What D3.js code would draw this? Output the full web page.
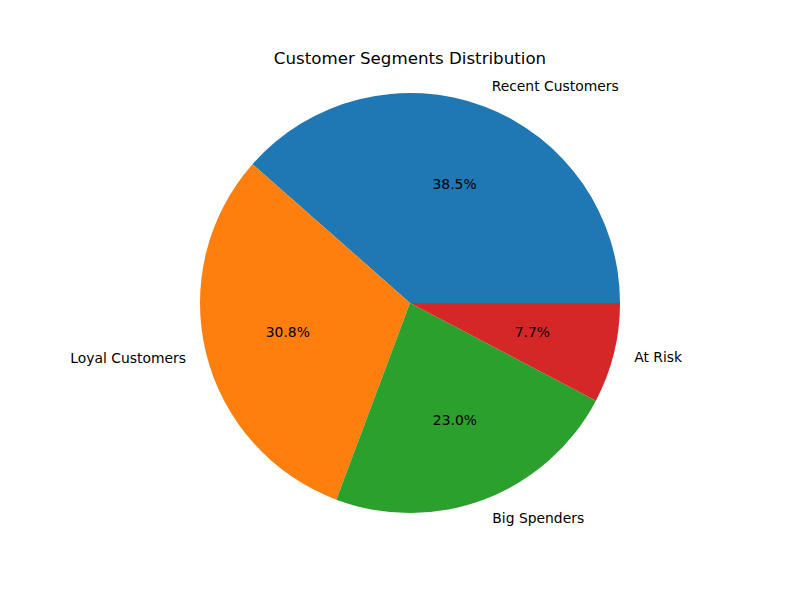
<!DOCTYPE html>
<html>
<head>
<meta charset="utf-8">
<script src="https://cdn.jsdelivr.net/npm/d3@7"></script>
<style>
  body { margin: 0; background: #fff; }
  svg text { font-family: "DejaVu Sans", sans-serif; }
</style>
</head>
<body>
<div id="chart"></div>
<script>
// data
const segments = ['Recent Customers', 'Loyal Customers', 'Big Spenders', 'At Risk'];
const shares = [38.5, 30.8, 23.0, 7.7];
const colors = ['#1f77b4', '#ff7f0e', '#2ca02c', '#d62728'];

const width = 800, height = 600;
const cx = 410, cy = 303, radius = 210;

const svg = d3.select('#chart').append('svg')
  .attr('width', width)
  .attr('height', height);

svg.append('text')
  .attr('x', cx)
  .attr('y', 64)
  .attr('text-anchor', 'middle')
  .style('font-size', '16.67px')
  .text('Customer Segments Distribution');

// matplotlib style: start at 3 o'clock, counterclockwise
const pie = d3.pie()
  .sort(null)
  .startAngle(Math.PI / 2)
  .endAngle(Math.PI / 2 - 2 * Math.PI);

const arcs = pie(shares);

const g = svg.append('g').attr('transform', `translate(${cx},${cy})`);

const arc = d3.arc().innerRadius(0).outerRadius(radius);
const labelArc = d3.arc().innerRadius(radius * 1.1).outerRadius(radius * 1.1);
const pctArc = d3.arc().innerRadius(radius * 0.6).outerRadius(radius * 0.6);

g.selectAll('path')
  .data(arcs)
  .enter()
  .append('path')
  .attr('d', arc)
  .attr('fill', (d, i) => colors[i]);

g.selectAll('.lbl')
  .data(arcs)
  .enter()
  .append('text')
  .attr('class', 'lbl')
  .attr('x', d => labelArc.centroid(d)[0])
  .attr('y', d => labelArc.centroid(d)[1])
  .attr('dy', '0.28em')
  .attr('text-anchor', d => labelArc.centroid(d)[0] >= 0 ? 'start' : 'end')
  .style('font-size', '13.89px')
  .text((d, i) => segments[i]);

g.selectAll('.pct')
  .data(arcs)
  .enter()
  .append('text')
  .attr('class', 'pct')
  .attr('x', d => pctArc.centroid(d)[0])
  .attr('y', d => pctArc.centroid(d)[1])
  .attr('dy', '0.28em')
  .attr('text-anchor', 'middle')
  .style('font-size', '13.89px')
  .text(d => d.data.toFixed(1) + '%');
</script>
</body>
</html>
